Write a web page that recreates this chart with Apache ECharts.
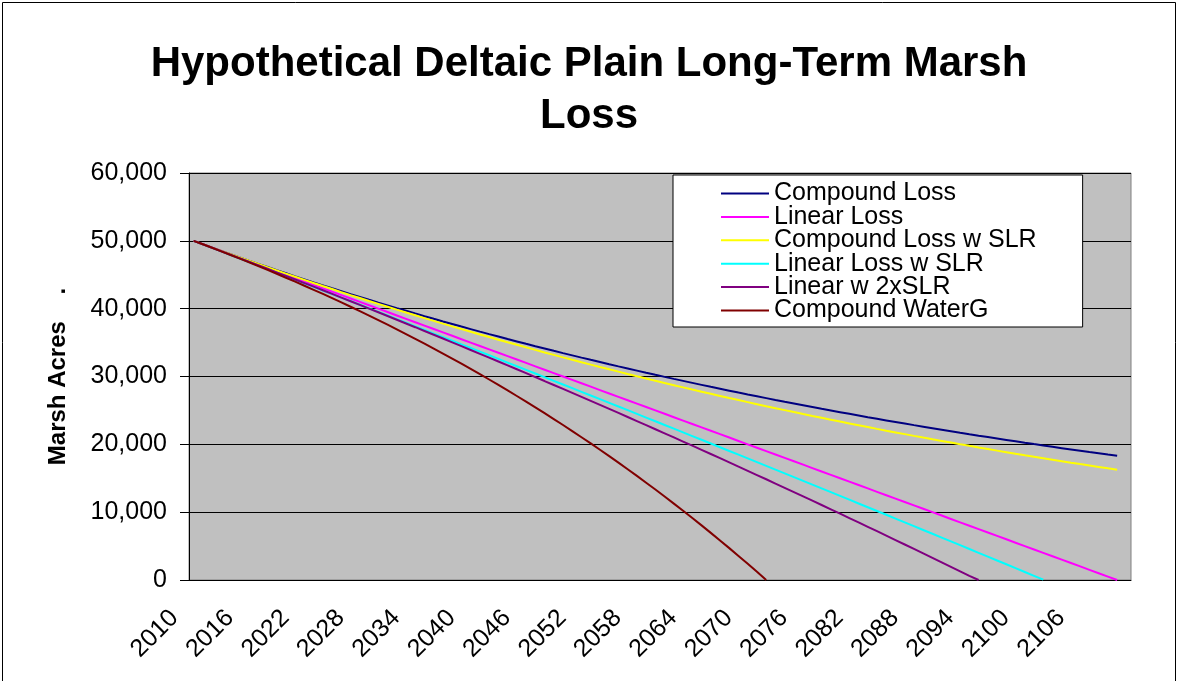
<!DOCTYPE html>
<html>
<head>
<meta charset="utf-8">
<title>Hypothetical Deltaic Plain Long-Term Marsh Loss</title>
<script src="https://cdn.jsdelivr.net/npm/echarts@6/dist/echarts.min.js"></script>
<style>
  html, body { margin: 0; padding: 0; background: #fff; }
  #chart_main { width: 1178px; height: 681px; }
</style>
</head>
<body>
<div id="chart_main"></div>
<script>
// years on the category axis (last one is empty, as in the sheet)
const years = ['2010','2011','2012','2013','2014','2015','2016','2017','2018','2019',
  '2020','2021','2022','2023','2024','2025','2026','2027','2028','2029',
  '2030','2031','2032','2033','2034','2035','2036','2037','2038','2039',
  '2040','2041','2042','2043','2044','2045','2046','2047','2048','2049',
  '2050','2051','2052','2053','2054','2055','2056','2057','2058','2059',
  '2060','2061','2062','2063','2064','2065','2066','2067','2068','2069',
  '2070','2071','2072','2073','2074','2075','2076','2077','2078','2079',
  '2080','2081','2082','2083','2084','2085','2086','2087','2088','2089',
  '2090','2091','2092','2093','2094','2095','2096','2097','2098','2099',
  '2100','2101','2102','2103','2104','2105','2106','2107','2108','2109',
  '2110','2111']

const yTicks = [0, 10000, 20000, 30000, 40000, 50000, 60000]

// marsh acres per year
const compoundLoss = [50000,49500,49005,48515,48030,47550,47074,46604,46138,45676,
  45219,44767,44319,43876,43437,43003,42573,42147,41726,41309,
  40896,40487,40082,39681,39284,38891,38502,38117,37736,37359,
  36985,36615,36249,35887,35528,35173,34821,34473,34128,33787,
  33449,33114,32783,32455,32131,31810,31492,31177,30865,30556,
  30250,29948,29648,29352,29058,28768,28480,28195,27913,27634,
  27358,27084,26813,26545,26280,26017,25757,25499,25244,24992,
  24742,24495,24250,24007,23767,23529,23294,23061,22830,22602,
  22376,22152,21930,21711,21494,21279,21066,20855,20647,20440,
  20236,20034,19833,19635,19439,19244,19052,18861,18673,18486,
  18301]

const linearLoss = [50000,49500,49000,48500,48000,47500,47000,46500,46000,45500,
  45000,44500,44000,43500,43000,42500,42000,41500,41000,40500,
  40000,39500,39000,38500,38000,37500,37000,36500,36000,35500,
  35000,34500,34000,33500,33000,32500,32000,31500,31000,30500,
  30000,29500,29000,28500,28000,27500,27000,26500,26000,25500,
  25000,24500,24000,23500,23000,22500,22000,21500,21000,20500,
  20000,19500,19000,18500,18000,17500,17000,16500,16000,15500,
  15000,14500,14000,13500,13000,12500,12000,11500,11000,10500,
  10000,9500,9000,8500,8000,7500,7000,6500,6000,5500,
  5000,4500,4000,3500,3000,2500,2000,1500,1000,500,
  0]

const compoundLossSLR = [50000,49499,49003,48510,48021,47536,47054,46577,46103,45632,
  45166,44703,44244,43789,43337,42889,42444,42003,41567,41133,
  40703,40277,39854,39434,39018,38605,38196,37790,37388,36990,
  36594,36202,35814,35429,35047,34668,34293,33921,33551,33186,
  32823,32464,32108,31755,31405,31059,30715,30375,30037,29702,
  29371,29043,28717,28395,28075,27759,27445,27135,26827,26522,
  26220,25921,25624,25331,25040,24752,24467,24183,23904,23627,
  23352,23080,22811,22544,22280,22018,21759,21503,21248,20997,
  20748,20502,20257,20016,19777,19540,19305,19073,18844,18616,
  18391,18168,17947,17729,17513,17299,17087,16877,16671,16465,
  16264]

const linearLossSLR = [50000,49481,48961,48441,47920,47399,46877,46354,45831,45308,
  44784,44260,43735,43209,42683,42156,41629,41102,40574,40045,
  39516,38986,38456,37925,37394,36862,36330,35797,35264,34730,
  34196,33661,33126,32590,32053,31516,30979,30441,29903,29364,
  28824,28284,27743,27202,26661,26118,25576,25033,24489,23945,
  23400,22855,22309,21763,21216,20668,20121,19572,19023,18474,
  17924,17374,16823,16271,15719,15166,14613,14060,13506,12951,
  12396,11840,11284,10727,10170,9612,9054,8495,7936,7376,
  6816,6255,5694,5132,4569,4006,3443,2879,2315,1750,
  1184,618,50]

const linear2xSLR = [50000,49492,48981,48469,47955,47439,46920,46400,45879,45355,
  44829,44301,43772,43240,42707,42172,41634,41095,40554,40011,
  39466,38920,38371,37820,37268,36713,36157,35598,35038,34476,
  33912,33346,32778,32208,31636,31063,30487,29910,29330,28749,
  28166,27580,26993,26404,25813,25220,24626,24029,23430,22830,
  22228,21623,21017,20409,19799,19187,18573,17957,17339,16719,
  16098,15474,14849,14221,13592,12961,12328,11693,11056,10417,
  9776,9133,8489,7842,7194,6543,5891,5237,4580,3922,
  3262,2600,1937,1271,603,0]

const compoundWaterG = [50000,49490,48973,48449,47917,47377,46830,46276,45713,45143,
  44564,43978,43383,42780,42168,41548,40918,40280,39634,38977,
  38312,37637,36953,36259,35555,34842,34118,33384,32640,31885,
  31120,30344,29557,28759,27949,27128,26296,25452,24596,23728,
  22847,21955,21049,20131,19200,18256,17298,16327,15343,14344,
  13331,12304,11263,10207,9136,8050,6948,5832,4699,3550,
  2385,1204,0]

const seriesNames = ['Compound Loss', 'Linear Loss', 'Compound Loss w SLR',
  'Linear Loss w SLR', 'Linear w 2xSLR', 'Compound WaterG']
const seriesColors = ['#000080', '#FF00FF', '#FFFF00', '#00FFFF', '#800080', '#800000']
const seriesData = [compoundLoss, linearLoss, compoundLossSLR, linearLossSLR, linear2xSLR, compoundWaterG]

const fontName = '"Liberation Sans", Arial, sans-serif'

let myChart = echarts.init(document.getElementById('chart_main'))

let option = {
  animation: false,
  backgroundColor: '#fff',
  textStyle: { fontFamily: fontName, color: '#000' },
  title: {
    text: 'Hypothetical Deltaic Plain Long-Term Marsh\nLoss',
    left: 'center',
    top: 33,
    textStyle: {
      fontFamily: fontName,
      fontSize: 42,
      fontWeight: 'bold',
      color: '#000',
      lineHeight: 52
    }
  },
  graphic: [
    { // outer chart border
      type: 'rect',
      shape: { x: 2.5, y: 2.5, width: 1173, height: 700 },
      style: { fill: 'none', stroke: '#000', lineWidth: 1 },
      silent: true
    }
  ],
  legend: {
    orient: 'vertical',
    left: 673,
    top: 175,
    data: seriesNames,
    icon: 'rect',
    backgroundColor: '#fff',
    borderColor: '#000',
    borderWidth: 1,
    padding: [6, 46, 4, 48],
    itemWidth: 48,
    itemHeight: 2,
    itemGap: -1.6,
    textStyle: { fontFamily: fontName, fontSize: 25, color: '#000' }
  },
  grid: {
    left: 189,
    top: 173,
    right: 47,
    bottom: 101,
    show: true,
    backgroundColor: '#C0C0C0',
    borderColor: '#808080',
    borderWidth: 1
  },
  xAxis: {
    type: 'category',
    data: years,
    boundaryGap: true,
    axisLine: { lineStyle: { color: '#000', width: 1 } },
    axisTick: { interval: 0, length: 6, lineStyle: { color: '#000' } },
    axisLabel: {
      interval: 5,
      rotate: 45,
      margin: 15,
      padding: [0, 27, 0, 0],
      fontFamily: fontName,
      fontSize: 25,
      color: '#000'
    },
    splitLine: { show: false }
  },
  yAxis: {
    type: 'value',
    min: yTicks[0],
    max: yTicks[yTicks.length - 1],
    interval: 10000,
    name: 'Marsh Acres    .',
    nameLocation: 'middle',
    nameGap: 119,
    nameRotate: 90,
    nameTextStyle: { fontFamily: fontName, fontSize: 24, fontWeight: 'bold', color: '#000' },
    axisLine: { show: true, lineStyle: { color: '#000', width: 1 } },
    axisTick: { show: true, length: 9, lineStyle: { color: '#000' } },
    axisLabel: {
      margin: 22,
      fontFamily: fontName,
      fontSize: 25,
      color: '#000',
      formatter: (v) => v.toLocaleString('en-US')
    },
    splitLine: { lineStyle: { color: '#000', width: 1 } }
  },
  series: seriesNames.map((name, i) => ({
    name: name,
    type: 'line',
    data: seriesData[i],
    symbol: 'none',
    color: seriesColors[i],
    lineStyle: { width: 2, color: seriesColors[i] }
  }))
}

option && myChart.setOption(option)
window.addEventListener('resize', () => {
  myChart.resize()
})
</script>
</body>
</html>
